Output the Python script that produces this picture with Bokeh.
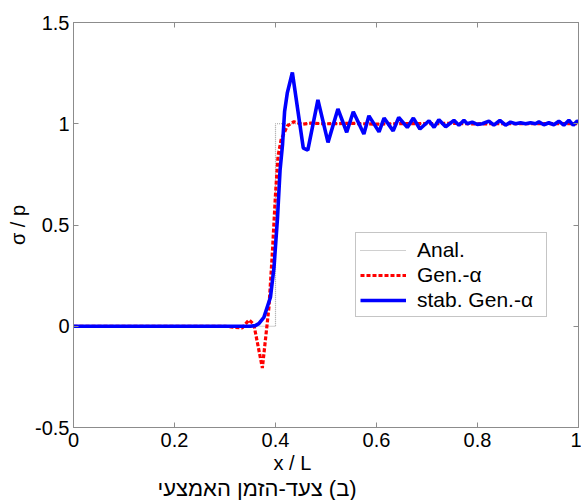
from bokeh.plotting import figure
from bokeh.models import (Range1d, FixedTicker, LinearAxis, Legend, LegendItem, Title)
from bokeh.embed import file_html
from bokeh.resources import INLINE

# ---- data ----
anal_x = [0.0, 0.4, 0.4, 1.0]
anal_y = [0.0, 0.0, 1.0, 1.0]

gen_x = [0.0, 0.10, 0.20, 0.30, 0.315, 0.334, 0.3475, 0.357, 0.374, 0.387, 0.394,
         0.400, 0.405, 0.411, 0.4235, 0.4366, 0.453, 0.47, 0.50, 0.55, 0.60, 0.65,
         0.70, 0.75, 0.80, 0.85, 0.90, 0.95, 1.0]
gen_y = [0.0, 0.0, 0.0, 0.0, -0.004, -0.008, 0.031, 0.010, -0.206, 0.093, 0.373,
         0.653, 0.840, 0.920, 0.990, 1.010, 0.998, 1.003, 1.000, 1.002, 0.998, 1.001,
         1.000, 1.002, 0.999, 1.001, 1.000, 1.001, 1.000]

stab_x = [0.0, 0.10, 0.20, 0.30, 0.35, 0.360, 0.367, 0.377, 0.390, 0.397, 0.404,
          0.409, 0.414, 0.418, 0.4235, 0.4334, 0.455, 0.464, 0.484, 0.504, 0.5236,
          0.541, 0.554, 0.575, 0.585, 0.605, 0.615, 0.633, 0.644, 0.661, 0.673,
          0.686, 0.704, 0.714, 0.7235, 0.737, 0.7533, 0.7632, 0.7731, 0.7797,
          0.7896, 0.7995, 0.8094, 0.8226, 0.8324, 0.8443, 0.8555, 0.8654, 0.8753,
          0.8852, 0.8951, 0.905, 0.9149, 0.9215, 0.9314, 0.9413, 0.9512, 0.9611,
          0.971, 0.9809, 0.9895, 0.9974, 1.0]
stab_y = [0.0, 0.0, 0.0, 0.0, 0.0, 0.003, 0.013, 0.044, 0.143, 0.290, 0.537,
          0.770, 0.900, 1.060, 1.154, 1.253, 0.880, 0.870, 1.118, 0.908, 1.073,
          0.958, 1.059, 0.949, 1.039, 0.960, 1.028, 0.965, 1.031, 0.982, 1.028,
          0.974, 1.015, 0.982, 1.020, 0.985, 1.017, 0.993, 1.017, 1.000,
          1.008, 0.997, 1.000, 1.013, 0.993, 1.017, 0.993, 1.008, 1.000,
          1.005, 1.000, 1.005, 1.000, 1.009, 0.995, 1.005, 0.995, 1.013,
          0.993, 1.017, 0.993, 1.013, 1.010]

x_ticks = [0, 0.2, 0.4, 0.6, 0.8, 1]
x_tick_labels = ["0", "0.2", "0.4", "0.6", "0.8", "1"]
y_ticks = [-0.5, 0, 0.5, 1, 1.5]
y_tick_labels = ["-0.5", "0", "0.5", "1", "1.5"]

series_names = ["Anal.", "Gen.-\u03b1", "stab. Gen.-\u03b1"]
x_label = "x / L"
y_label = "\u03c3 / p"
# RLM keeps the Hebrew caption in right-to-left order
caption = "\u200f(\u05d1) \u05e6\u05e2\u05d3-\u05d4\u05d6\u05de\u05df \u05d4\u05d0\u05de\u05e6\u05e2\u05d9"

FONT = "Liberation Sans"
GRAY = "#8c8c8c"

p = figure(width=581, height=500, output_backend="svg", toolbar_location=None,
           x_range=Range1d(0, 1), y_range=Range1d(-0.5, 1.5),
           min_border_left=73, min_border_right=3, min_border_top=22, min_border_bottom=73)
p.grid.visible = False
p.outline_line_color = GRAY
p.background_fill_color = "white"
p.border_fill_color = "white"

def style_axis(ax, ticks, labels, show):
    ax.ticker = FixedTicker(ticks=ticks)
    ax.axis_line_color = GRAY
    ax.major_tick_line_color = GRAY
    ax.major_tick_in = 5
    ax.major_tick_out = 0
    ax.minor_tick_line_color = None
    ax.major_label_text_font = FONT
    ax.major_label_text_color = "black"
    if show:
        ax.major_label_overrides = {t: l for t, l in zip(ticks, labels)}
        ax.major_label_text_font_size = "20px"
        ax.major_label_standoff = 4
    else:
        ax.major_label_overrides = {t: "" for t in ticks}
        ax.major_label_text_font_size = "1px"
        ax.major_label_standoff = 0

style_axis(p.xaxis[0], x_ticks, x_tick_labels, True)
style_axis(p.yaxis[0], y_ticks, y_tick_labels, True)
p.xaxis[0].major_label_standoff = 5
p.yaxis[0].major_label_standoff = 4
p.yaxis[0].axis_label = y_label
p.yaxis[0].axis_label_text_font = FONT
p.yaxis[0].axis_label_text_font_size = "20px"
p.yaxis[0].axis_label_text_font_style = "normal"
p.yaxis[0].axis_label_text_color = "black"
p.yaxis[0].axis_label_standoff = 3

top = LinearAxis()
style_axis(top, x_ticks, x_tick_labels, False)
p.add_layout(top, "above")
right = LinearAxis()
style_axis(right, y_ticks, y_tick_labels, False)
p.add_layout(right, "right")

r_anal = p.line(anal_x, anal_y, line_color="#a0a0a0", line_width=1.2, line_dash="1 1")
r_gen = p.line(gen_x, gen_y, line_color="#ff0000", line_width=3.2, line_dash="4 2")
r_stab = p.line(stab_x, stab_y, line_color="#0000ff", line_width=3.6)

legend = Legend(items=[LegendItem(label=series_names[0], renderers=[r_anal]),
                       LegendItem(label=series_names[1], renderers=[r_gen]),
                       LegendItem(label=series_names[2], renderers=[r_stab])],
                location=(282, 110))
legend.label_text_font = FONT
legend.label_text_font_size = "21px"
legend.label_text_color = "black"
legend.glyph_width = 46
legend.glyph_height = 20
legend.label_height = 25
legend.label_width = 125
legend.label_standoff = 11
legend.spacing = 0
legend.padding = 4
legend.margin = 0
legend.border_line_color = GRAY
legend.border_line_width = 1
legend.background_fill_color = "white"
legend.background_fill_alpha = 1
p.add_layout(legend, "center")

t_x = Title(text=x_label, align="left", offset=200, standoff=0,
            text_font=FONT, text_font_size="20px", text_font_style="normal",
            text_color="black")
p.add_layout(t_x, "below")
t_cap = Title(text=caption, align="left", offset=84, standoff=0,
              text_font=FONT, text_font_size="22px", text_font_style="normal",
              text_color="black")
p.add_layout(t_cap, "below")

open("out.html", "w").write(file_html(p, INLINE))
